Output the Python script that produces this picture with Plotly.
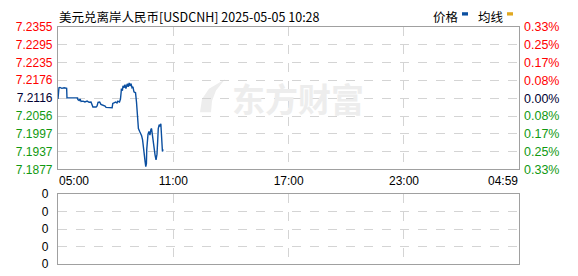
import plotly.graph_objects as go

W, H = 578, 276

# ---- data ----
times = ["05:00", "05:03", "05:06", "05:12", "05:19", "05:27", "05:28", "05:44", "06:01", "06:02",
         "06:06", "06:09", "06:12", "06:18", "06:24", "06:31", "06:37", "06:43", "06:46", "06:49",
         "06:59", "07:02", "07:05", "07:10", "07:14", "07:21", "07:27", "07:30", "07:39", "07:49",
         "07:51", "07:55", "08:00", "08:04", "08:07", "08:12", "08:15", "08:17", "08:18", "08:21",
         "08:23", "08:26", "08:29", "08:32", "08:36", "08:39", "08:42", "08:45", "08:48", "08:51",
         "08:54", "08:57", "09:02", "09:05", "09:07", "09:09", "09:11", "09:15", "09:18", "09:21",
         "09:24", "09:26", "09:28", "09:30", "09:32", "09:34", "09:36", "09:37", "09:39", "09:41",
         "09:44", "09:47", "09:50", "09:52", "09:54", "09:57", "10:00", "10:03", "10:06", "10:09",
         "10:11", "10:13", "10:16", "10:19", "10:21", "10:23", "10:25", "10:26", "10:28"]
prices = [7.2113, 7.2151, 7.2152, 7.2149, 7.2151, 7.2149, 7.2117, 7.2117, 7.2117, 7.2111,
          7.2108, 7.2113, 7.2105, 7.2106, 7.2103, 7.2106, 7.2102, 7.2103, 7.2094, 7.2086,
          7.2086, 7.2090, 7.2102, 7.2103, 7.2095, 7.2092, 7.2089, 7.2085, 7.2084, 7.2084,
          7.2098, 7.2100, 7.2103, 7.2100, 7.2106, 7.2103, 7.2113, 7.2135, 7.2148, 7.2141,
          7.2157, 7.2151, 7.2161, 7.2148, 7.2164, 7.2154, 7.2167, 7.2157, 7.2165, 7.2151,
          7.2154, 7.2137, 7.2134, 7.2103, 7.2071, 7.2033, 7.2014, 7.2004, 7.1998, 7.1990,
          7.1976, 7.1950, 7.1934, 7.1912, 7.1902, 7.1886, 7.1896, 7.1944, 7.1982, 7.1995,
          7.2004, 7.1992, 7.2011, 7.2014, 7.1998, 7.1969, 7.1944, 7.1925, 7.1909, 7.1928,
          7.1969, 7.2014, 7.2027, 7.2021, 7.2030, 7.1985, 7.1947, 7.1937, 7.1944]

price_ticks = [7.2355, 7.2295, 7.2235, 7.2176, 7.2116, 7.2056, 7.1997, 7.1937, 7.1877]
pct_labels = ["0.33%", "0.25%", "0.17%", "0.08%", "0.00%", "0.08%", "0.17%", "0.25%", "0.33%"]
tick_colors = ["#ff0000"] * 4 + ["#000033"] + ["#119911"] * 4
x_tick_labels = ["05:00", "11:00", "17:00", "23:00", "04:59"]
x_tick_times = ["2025-05-05 05:00", "2025-05-05 11:00", "2025-05-05 17:00",
                "2025-05-05 23:00", "2025-05-06 04:59"]
vol_ticks = [0, 1, 2, 3, 4]
vol_labels = ["0", "0", "0", "0", "0"]
title_text = "美元兑离岸人民币[USDCNH] 2025-05-05 10:28"

xs = ["2025-05-05 " + t for t in times]


def px(x):
    return x / W


def py(y):
    return 1 - y / H


FONT = "Liberation Sans, Arial, sans-serif"
CJK = "Noto Sans CJK SC, sans-serif"
GRID = "#d4d4d4"
FRAME = "#a0a0a0"

fig = go.Figure()
fig.add_trace(go.Scatter(x=xs, y=prices, mode="lines",
                         line=dict(color="#0b4fa0", width=1.4), xaxis="x", yaxis="y",
                         hoverinfo="skip", showlegend=False))
# invisible trace to anchor bottom panel
fig.add_trace(go.Scatter(x=[x_tick_times[0]], y=[None], mode="lines", xaxis="x2", yaxis="y3",
                         showlegend=False, hoverinfo="skip"))

xdom = [px(58), px(519)]
xrange = [x_tick_times[0], x_tick_times[-1]]

common_x = dict(domain=xdom, range=xrange, type="date", showgrid=True, gridcolor=GRID,
                griddash="dash", gridwidth=1, tickvals=x_tick_times[1:-1],
                showline=True, linecolor=FRAME, linewidth=1.2, mirror=True, zeroline=False,
                ticks="")

fig.update_layout(
    width=W, height=H, margin=dict(l=0, r=0, t=0, b=0),
    paper_bgcolor="white", plot_bgcolor="white",
    xaxis=dict(**common_x, anchor="y", ticktext=x_tick_labels[1:-1],
               tickfont=dict(family=FONT, size=12, color="#000")),
    xaxis2=dict(**common_x, anchor="y3", showticklabels=False),
    yaxis=dict(domain=[py(171), py(21)], range=[price_ticks[-1], price_ticks[0]],
               tickvals=price_ticks,
               ticktext=[f'<span style="color:{c}">{v:.4f}</span>' for v, c in zip(price_ticks, tick_colors)],
               tickfont=dict(family=FONT, size=12), showgrid=True, gridcolor=GRID, griddash="dash",
               showline=True, linecolor=FRAME, linewidth=1.2, mirror=True, zeroline=False,
               ticks="", ticklabelstandoff=2, anchor="x"),
    yaxis2=dict(domain=[py(171), py(21)], range=[price_ticks[-1], price_ticks[0]],
                overlaying="y", side="right", tickvals=price_ticks,
                ticktext=[f'<span style="color:{c}">{t}</span>' for t, c in zip(pct_labels, tick_colors)],
                tickfont=dict(family=FONT, size=12.5), showgrid=False, zeroline=False,
                ticks="", ticklabelstandoff=4, anchor="x"),
    yaxis3=dict(domain=[py(271), py(197)], range=[0, 4], tickvals=vol_ticks, ticktext=vol_labels,
                tickfont=dict(family=FONT, size=12, color="#000"), showgrid=True, gridcolor=GRID,
                griddash="dash", showline=True, linecolor=FRAME, linewidth=1.2, mirror=True,
                zeroline=False, ticks="", ticklabelstandoff=6, anchor="x2"),
)

fig.add_trace(go.Scatter(x=[x_tick_times[0]], y=[None], xaxis="x", yaxis="y2",
                         showlegend=False, hoverinfo="skip"))

ann = []
ann.append(dict(text=title_text, x=px(57), y=py(10), xref="paper", yref="paper",
                xanchor="left", yanchor="middle", showarrow=False,
                font=dict(family=CJK, size=12.5, color="#000")))
ann.append(dict(text=x_tick_labels[0], x=px(57), y=py(183), xref="paper", yref="paper",
                xanchor="left", yanchor="middle", showarrow=False,
                font=dict(family=FONT, size=12, color="#000")))
ann.append(dict(text=x_tick_labels[-1], x=px(520), y=py(183), xref="paper", yref="paper",
                xanchor="right", yanchor="middle", showarrow=False,
                font=dict(family=FONT, size=12, color="#000")))
ann.append(dict(text="价格", x=px(431), y=py(10), xref="paper", yref="paper",
                xanchor="left", yanchor="middle", showarrow=False,
                font=dict(family=CJK, size=12.5, color="#000")))
ann.append(dict(text="均线", x=px(476), y=py(10), xref="paper", yref="paper",
                xanchor="left", yanchor="middle", showarrow=False,
                font=dict(family=CJK, size=12.5, color="#000")))
ann.append(dict(text="<b>东方财富</b>", x=px(298), y=py(96), xref="paper", yref="paper",
                xanchor="center", yanchor="middle", showarrow=False,
                font=dict(family=CJK, size=33, color="#ededed")))
fig.update_layout(annotations=ann)

shapes = [
    dict(type="rect", xref="paper", yref="paper", x0=px(462), x1=px(468), y0=py(9), y1=py(5.5),
         fillcolor="#0b4fa0", line=dict(width=0)),
    dict(type="rect", xref="paper", yref="paper", x0=px(507), x1=px(513), y0=py(9), y1=py(5.5),
         fillcolor="#e0a820", line=dict(width=0)),
]
# watermark swoosh logo
pts = [(200, 111), (202, 97), (209, 86), (225, 76), (216, 88), (212, 99), (211, 111)]
path = "M " + " L ".join(f"{px(a):.5f},{py(b):.5f}" for a, b in pts) + " Z"
shapes.append(dict(type="path", xref="paper", yref="paper", path=path, fillcolor="#ededed",
                   line=dict(width=0), layer="below"))
fig.update_layout(shapes=shapes)

fig.write_html("out.html")
